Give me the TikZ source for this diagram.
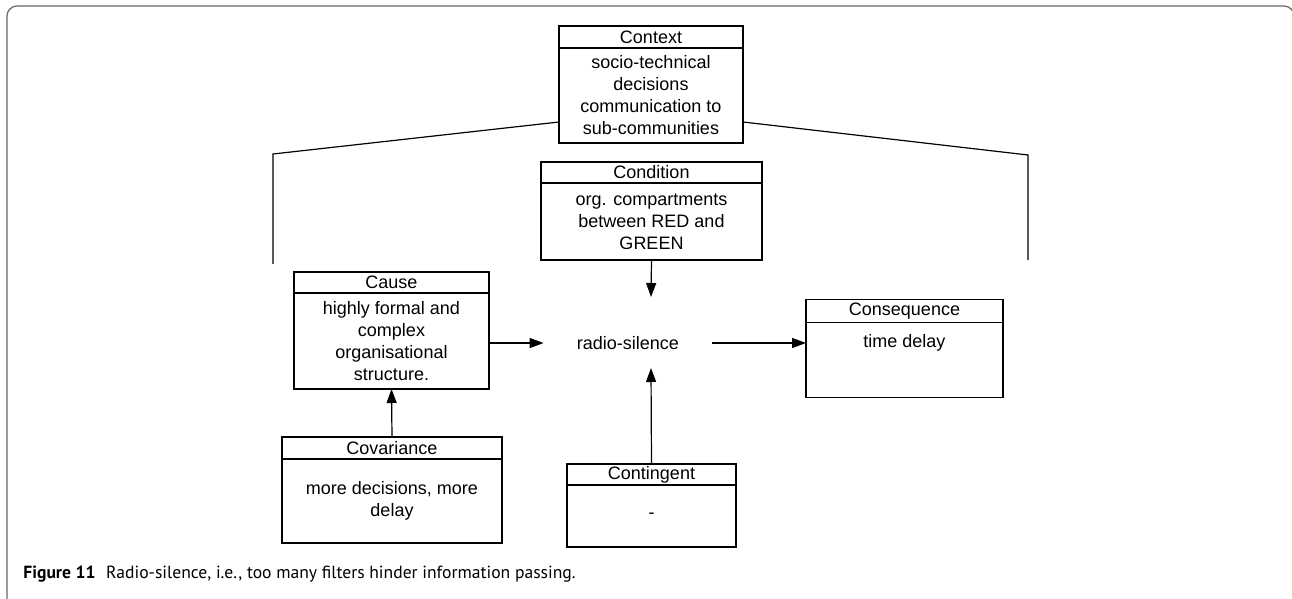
\documentclass[tikz,border=0pt]{standalone}
\usepackage{fontspec}
\setmainfont{Liberation Sans}
\newfontfamily\capfont{PT Sans}
\usetikzlibrary{arrows.meta,positioning}

\tikzset{
  hdr/.style={draw, line width=0.65pt, inner sep=0pt, outer sep=0pt, minimum height=11pt, font=\fontsize{9}{11}\selectfont},
  bdy/.style={draw, line width=0.65pt, inner sep=0pt, outer sep=0pt, align=center, font=\fontsize{9}{11}\selectfont},
  arr/.style={line width=0.6pt, -{Triangle[length=7pt,width=5pt]}},
  lnk/.style={line width=0.6pt},
}

\begin{document}
\begin{tikzpicture}[x=0.5pt,y=-0.5pt]
			%%%%% START %%%%%
			\useasboundingbox (0,0) rectangle (1292,599);
			\draw[black!60, line width=0.6pt, rounded corners=5pt] (7,6) rectangle (1294,610);
			
			\node[hdr, minimum width=92pt] (ctxT) at (651,37) {Context};
			\node[bdy, minimum width=92pt, minimum height=47.5pt, below=0pt of ctxT] (ctx) {socio-technical\\decisions\\communication to\\sub-communities};
			
			\node[hdr, minimum width=110.5pt, minimum height=10.5pt] (condT) at (651.5,172.5) {Condition};
			\node[bdy, minimum width=110.5pt, minimum height=38.5pt, below=0pt of condT] (cond) {org. compartments\\between RED and\\GREEN};
			
			\node[hdr, minimum width=97.5pt, minimum height=10.5pt] (causeT) at (391.5,282.5) {Cause};
			\node[bdy, minimum width=97.5pt, minimum height=48pt, below=0pt of causeT] (cause) {highly formal and\\complex\\organisational\\structure.};
			
			\node[hdr, minimum width=98.5pt, minimum height=11.5pt] (consT) at (904.5,311) {Consequence};
			\node[bdy, minimum width=98.5pt, text height=12.5pt, text depth=25pt, below=0pt of consT] (cons) {time delay};
			
			\node[hdr, minimum width=110pt] (covT) at (392,448) {Covariance};
			\node[bdy, minimum width=110pt, minimum height=42pt, below=0pt of covT] (cov) {more decisions, more\\delay};
			
			\node[hdr, minimum width=84.5pt, minimum height=10.5pt] (contT) at (651.5,474.5) {Contingent};
			\node[bdy, minimum width=84.5pt, minimum height=31pt, below=0pt of contT] (cont) {-};
			
			\node[font=\fontsize{9}{11}\selectfont, inner xsep=16.5pt, inner ysep=0pt] (radio) at (628,343) {radio-silence};
			\coordinate (radioN) at (651,297);
			\coordinate (radioS) at (651,368);
			
			% context brackets
			\coordinate (ctxL) at (273,154);
			\coordinate (ctxLe) at (273,264);
			\coordinate (ctxR) at (1028,155);
			\coordinate (ctxRe) at (1028,260);
			\draw[lnk] (ctx.west |- 0,122) -- (ctxL) -- (ctxLe);
			\draw[lnk] (ctx.east |- 0,122) -- (ctxR) -- (ctxRe);
			
			\draw[arr] (cause.east |- radio) -- (radio.west);
			\draw[arr] (radio.east) -- (cons.west |- radio);
			\draw[arr] (cond.south) -- (radioN);
			\draw[arr] (contT.north) -- (radioS);
			\draw[arr] (covT.north) -- (cause.south);
			
			\node[anchor=base west, inner sep=0pt, font=\capfont\fontsize{8.8}{10}\selectfont] (cap) at (23,578) {\textbf{Figure 11}\hspace{0.6em}Radio-silence, i.e., too many filters hinder information passing.};
			%%%%% END %%%%%
\end{tikzpicture}
\end{document}
